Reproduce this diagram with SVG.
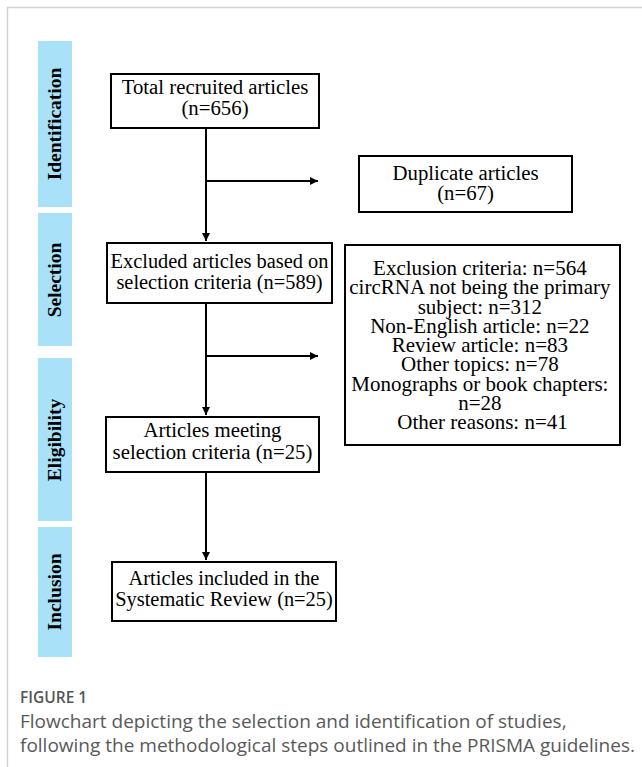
<svg xmlns="http://www.w3.org/2000/svg" width="642" height="767" viewBox="0 0 642 767">
<style>
.frame{stroke:#d3d3d3;stroke-width:1.5;fill:none}
.bar{fill:#a8e1f8}
.lbl{font-family:"Liberation Serif","Times New Roman",serif;font-weight:bold;font-size:19.5px;fill:#000;text-anchor:middle}
.box{fill:#fff;stroke:#000;stroke-width:2}
.t{font-family:"Liberation Serif","Times New Roman",serif;font-size:20px;fill:#000;text-anchor:middle}
.ln{stroke:#000;stroke-width:2;fill:none}
.cap1{font-family:"Open Sans","Liberation Sans",sans-serif;font-size:15.5px;font-weight:600;fill:#555}
.cap2{font-family:"Open Sans","Liberation Sans",sans-serif;font-size:19px;fill:#595959}
</style>
<defs>
<marker id="ah" markerWidth="10" markerHeight="10" refX="8" refY="4" orient="auto" markerUnits="userSpaceOnUse">
<path d="M0,0 L8,4 L0,8 z" fill="#000"/>
</marker>
</defs>
<rect width="642" height="767" fill="#fff"/>
<path class="frame" d="M7.5,767 V7.5 H642"/>

<g id="phase-identification">
<rect class="bar" x="38" y="41" width="34" height="166"/>
<text class="lbl" transform="translate(60.5,124) rotate(-90)">Identification</text>
</g>
<g id="phase-selection">
<rect class="bar" x="38" y="213" width="34" height="133"/>
<text class="lbl" transform="translate(60.5,280) rotate(-90)">Selection</text>
</g>
<g id="phase-eligibility">
<rect class="bar" x="38" y="358" width="34" height="163"/>
<text class="lbl" transform="translate(60.5,440) rotate(-90)">Eligibility</text>
</g>
<g id="phase-inclusion">
<rect class="bar" x="38" y="527" width="34" height="130"/>
<text class="lbl" transform="translate(60.5,592) rotate(-90)">Inclusion</text>
</g>

<g id="connectors">
<path class="ln" d="M206,128 V241" marker-end="url(#ah)"/>
<path class="ln" d="M206,181 H318" marker-end="url(#ah)"/>
<path class="ln" d="M206,303 V415" marker-end="url(#ah)"/>
<path class="ln" d="M206,356 H318" marker-end="url(#ah)"/>
<path class="ln" d="M206,472 V560" marker-end="url(#ah)"/>
</g>

<g id="n1">
<rect class="box" x="111" y="74" width="208" height="54"/>
<text class="t" transform="translate(215,0) scale(1.04,1)"><tspan x="0" y="94">Total recruited articles</tspan><tspan x="0" y="115">(n=656)</tspan></text>
</g>
<g id="n2">
<rect class="box" x="359" y="156" width="213" height="56"/>
<text class="t" transform="translate(465.5,0) scale(1.04,1)"><tspan x="0" y="180">Duplicate articles</tspan><tspan x="0" y="200">(n=67)</tspan></text>
</g>
<g id="n3">
<rect class="box" x="107" y="243" width="225" height="60"/>
<text class="t" transform="translate(219.5,0) scale(1.02,1)"><tspan x="0" y="268">Excluded articles based on</tspan><tspan x="0" y="289">selection criteria (n=589)</tspan></text>
</g>
<g id="n4">
<rect class="box" x="345" y="245" width="275" height="200"/>
<text class="t" transform="translate(482.5,0) scale(1.05,1)">
<tspan x="0" y="275">Exclusion criteria: n=564</tspan>
<tspan x="0" y="294.3">circRNA not being the primary</tspan>
<tspan x="0" y="313.6">subject: n=312</tspan>
<tspan x="0" y="332.9">Non-English article: n=22</tspan>
<tspan x="0" y="352.2">Review article: n=83</tspan>
<tspan x="0" y="371.5">Other topics: n=78</tspan>
<tspan x="0" y="390.8">Monographs or book chapters:</tspan>
<tspan x="0" y="410.1">n=28</tspan>
<tspan x="0" y="429.4">Other reasons: n=41</tspan>
</text>
</g>
<g id="n5">
<rect class="box" x="106" y="417" width="213" height="55"/>
<text class="t" transform="translate(212.5,0) scale(1.04,1)"><tspan x="0" y="437">Articles meeting</tspan><tspan x="0" y="459">selection criteria (n=25)</tspan></text>
</g>
<g id="n6">
<rect class="box" x="112" y="562" width="224" height="59"/>
<text class="t" transform="translate(224,0) scale(1.02,1)"><tspan x="0" y="585">Articles included in the</tspan><tspan x="0" y="606">Systematic Review (n=25)</tspan></text>
</g>

<g id="caption">
<text class="cap1" x="20" y="703">FIGURE 1</text>
<text class="cap2" x="20" y="728">Flowchart depicting the selection and identification of studies,</text>
<text class="cap2" x="20" y="752">following the methodological steps outlined in the PRISMA guidelines.</text>
</g>
</svg>
